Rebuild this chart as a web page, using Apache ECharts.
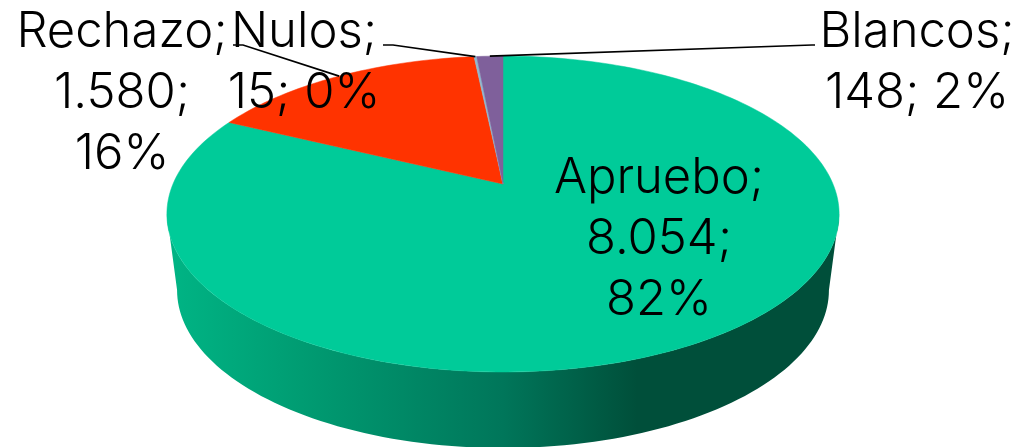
<!DOCTYPE html>
<html>
<head>
<meta charset="utf-8">
<style>
  html, body { margin: 0; padding: 0; background: #fff; }
  #chart { width: 1017px; height: 447px; }
</style>
<script src="https://cdn.jsdelivr.net/npm/echarts@6/dist/echarts.min.js"></script>
</head>
<body>
<div id="chart"></div>
<script>
var categories = ['Apruebo', 'Rechazo', 'Nulos', 'Blancos'];
var values = [8054, 1580, 15, 148];
var colors = ['#00cb99', '#ff3300', '#8fb9cf', '#7f609b'];

// label anchors and leader lines, in pixels
var labelAt = [[659, 148], [122, 2], [304, 2], [917, 2]];
var leaderStart = [null, [[233, 45], [243, 45]], [[383, 45], [393, 45]], [[815, 45], [812, 45]]];

var total = values.reduce(function(a, b) { return a + b; }, 0);
var font = '300 49px Inter, Lato, sans-serif';
var lineH = 61;

// Excel style 3D pie: circle seen in perspective, k pulls the back edge in
var cx = 503, cy = 184, k = 0.19;
function rim(deg, a, b, dy) {
  var t = deg * Math.PI / 180;
  var u = Math.sin(t), v = Math.cos(t), w = 1 + k * v;
  return [cx + a * u / w, cy + dy - b * v / w];
}
function arc(from, to, a, b, dy) {
  var pts = [], n = Math.max(2, Math.ceil(Math.abs(to - from) / 1.5));
  for (var i = 0; i <= n; i++) pts.push(rim(from + (to - from) * i / n, a, b, dy));
  return pts;
}
function startAngle(i) {
  var s = 0;
  for (var j = 0; j < i; j++) s += values[j];
  return s / total * 360;
}
function fmt(n) {
  return String(n).replace(/\B(?=(\d{3})+$)/g, '.');
}
function labelText(i) {
  var pct = Math.round(values[i] / total * 100) + '%';
  var name = categories[i] + ';', val = fmt(values[i]) + ';';
  if (i === 2 || i === 3) return name + '\n' + fmt(values[i]) + '; ' + pct;
  return name + '\n' + val + '\n' + pct;
}

var turn = Math.acos(-k) * 180 / Math.PI;

var chart = echarts.init(document.getElementById('chart'), null, { renderer: 'canvas' });
chart.setOption({
  animation: false,
  series: [
    {
      // side wall, only the front of the pie shows
      type: 'custom',
      coordinateSystem: 'none',
      silent: true,
      z: 1,
      data: [[0]],
      renderItem: function() {
        var top = arc(turn, 360 - turn, 330, 152.3, 0);
        var low = arc(360 - turn, turn, 320, 152.3, 76);
        return {
          type: 'polygon',
          shape: { points: top.concat(low) },
          style: {
            fill: new echarts.graphic.LinearGradient(167, 0, 839, 0, [
              { offset: 0, color: '#00b585' },
              { offset: 0.2, color: '#009c72' },
              { offset: 0.5, color: '#00765a' },
              { offset: 0.7, color: '#004f3a' },
              { offset: 1, color: '#004f3a' }
            ], true)
          }
        };
      }
    },
    {
      // top face
      type: 'custom',
      coordinateSystem: 'none',
      silent: true,
      z: 2,
      data: values.map(function(v, i) { return [i, v]; }),
      renderItem: function(params, api) {
        var i = api.value(0);
        var from = startAngle(i), to = from + api.value(1) / total * 360;
        return {
          type: 'polygon',
          shape: { points: [[cx, cy]].concat(arc(from, to, 330, 152.3, 0)) },
          style: { fill: colors[i], stroke: colors[i], lineWidth: 0.5 }
        };
      }
    },
    {
      // leader lines and labels
      type: 'custom',
      coordinateSystem: 'none',
      silent: true,
      z: 3,
      data: values.map(function(v, i) { return [i, v]; }),
      renderItem: function(params, api) {
        var i = api.value(0);
        var kids = [];
        if (leaderStart[i]) {
          var mid = startAngle(i) + api.value(1) / total * 180;
          kids.push({
            type: 'polyline',
            shape: { points: leaderStart[i].concat([rim(mid, 330, 152.3, 0)]) },
            style: { stroke: '#000', lineWidth: 1.7, fill: null }
          });
        }
        kids.push({
          type: 'text',
          style: {
            x: labelAt[i][0], y: labelAt[i][1],
            text: labelText(i),
            font: font,
            lineHeight: lineH,
            fill: '#000',
            align: 'center',
            verticalAlign: 'top'
          }
        });
        return { type: 'group', children: kids };
      }
    }
  ]
});
</script>
</body>
</html>
